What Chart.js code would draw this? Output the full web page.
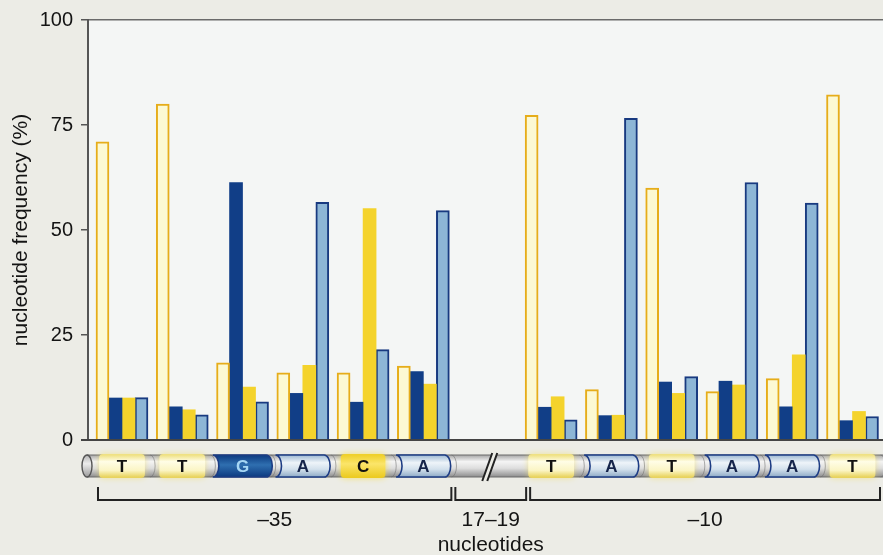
<!DOCTYPE html>
<html>
<head>
<meta charset="utf-8">
<script src="https://cdn.jsdelivr.net/npm/chart.js@4.4.1/dist/chart.umd.min.js"></script>
<style>
  html, body { margin: 0; padding: 0; background: #ececE6; overflow: hidden; }
  #wrap { width: 883px; height: 555px; position: relative; }
  canvas { display: block; }
</style>
</head>
<body>
<div id="wrap"><canvas id="promoter" width="883" height="555"></canvas></div>
<script>
// Consensus bases of the two promoter boxes
const boxMinus35 = ['T', 'T', 'G', 'A', 'C', 'A'];
const boxMinus10 = ['T', 'A', 'T', 'A', 'A', 'T'];

// Frequency (%) of each nucleotide at the 12 box positions (-35 box then -10 box)
const freqT = [71, 80, 18.4, 16, 16, 17.6, 77.3, 12, 60, 11.5, 14.6, 82.2];
const freqG = [10, 7.9, 61.3, 11.1, 9, 16.3, 7.8, 5.8, 13.8, 14, 7.9, 4.6];
const freqC = [10, 7.2, 12.6, 17.8, 55.1, 13.3, 10.3, 5.9, 11.1, 13.1, 20.3, 6.8];
const freqA = [10.1, 6, 9.1, 56.6, 21.5, 54.6, 4.8, 76.6, 15.1, 61.3, 56.4, 5.6];

const yTicks = [0, 25, 50, 75, 100];
const spacerLabel = '17–19';
const regionLabels = ['–35', spacerLabel, '–10'];
const yTitle = 'nucleotide frequency (%)';
const xTitle = 'nucleotides';

// Bases sit one slot apart; the spacer between the boxes is drawn a little over two slots wide
const bases = [...boxMinus35, ...boxMinus10];
const FIRST_BOX = boxMinus35.length;
const SPACER_EXTRA = 1.12;
const slotOf = i => (i < FIRST_BOX ? i : i + SPACER_EXTRA);
const asPoints = arr => arr.map((v, i) => ({ x: slotOf(i), y: v }));

const FONT = '"Liberation Sans", Arial, Helvetica, sans-serif';
const INK = '#141414';

function baseShape(ctx, xl, xr, top, bot, bulge) {
  const mid = (top + bot) / 2, ry = (bot - top) / 2;
  ctx.beginPath();
  ctx.moveTo(xl, top);
  ctx.lineTo(xr, top);
  ctx.ellipse(xr, mid, bulge, ry, 0, -Math.PI / 2, Math.PI / 2, false);
  ctx.lineTo(xl, bot);
  ctx.ellipse(xl, mid, bulge, ry, 0, Math.PI / 2, -Math.PI / 2, true);
  ctx.closePath();
}

function drawBase(ctx, base, cx, top, bot, slot) {
  const mid = (top + bot) / 2;
  ctx.save();
  if (base === 'T' || base === 'C') {
    const w = base === 'T' ? slot * 0.76 : slot * 0.74;
    const g = ctx.createLinearGradient(0, top, 0, bot);
    if (base === 'T') {
      g.addColorStop(0, '#efe183'); g.addColorStop(0.3, '#fffde6');
      g.addColorStop(0.7, '#fbf5c4'); g.addColorStop(1, '#e8d35e');
      ctx.shadowColor = 'rgba(240, 222, 100, 0.6)';
    } else {
      g.addColorStop(0, '#efd02a'); g.addColorStop(0.4, '#fbe56a');
      g.addColorStop(1, '#eccb22');
      ctx.shadowColor = 'rgba(245, 220, 60, 0.7)';
    }
    ctx.shadowBlur = 6;
    ctx.beginPath();
    ctx.roundRect(cx - w / 2, top - 1, w, bot - top + 2, 4);
    ctx.fillStyle = g;
    ctx.fill();
    ctx.shadowBlur = 0;
    ctx.fillStyle = '#111';
  } else {
    const w = base === 'G' ? slot * 0.92 : slot * 0.84;
    const xl = cx - w / 2 - 2, xr = cx + w / 2 - 4;
    const g = ctx.createLinearGradient(0, top, 0, bot);
    if (base === 'A') {
      g.addColorStop(0, '#9db8d2'); g.addColorStop(0.35, '#eef4f9');
      g.addColorStop(0.65, '#d2e0ec'); g.addColorStop(1, '#8eaac6');
    } else {
      g.addColorStop(0, '#0c3a80'); g.addColorStop(0.45, '#2f6fb0');
      g.addColorStop(1, '#0c3a80');
    }
    baseShape(ctx, xl, xr, top, bot, 6);
    ctx.fillStyle = g;
    ctx.fill();
    ctx.strokeStyle = '#1d3c84';
    ctx.lineWidth = 1.6;
    ctx.stroke();
    ctx.fillStyle = base === 'A' ? '#15244a' : '#a6d6f4';
  }
  ctx.font = 'bold 17px ' + FONT;
  ctx.textAlign = 'center';
  ctx.textBaseline = 'middle';
  ctx.fillText(base, cx, mid + 1);
  ctx.restore();
}

const backdrop = {
  id: 'backdrop',
  beforeDraw(chart) {
    const { ctx, chartArea: a } = chart;
    ctx.save();
    ctx.fillStyle = '#ececE6';
    ctx.fillRect(0, 0, chart.width, chart.height);
    ctx.fillStyle = '#f4f6f5';
    ctx.fillRect(a.left, a.top, a.right - a.left, a.bottom - a.top);
    ctx.restore();
  }
};

const promoterMap = {
  id: 'promoterMap',
  afterDatasetsDraw(chart) {
    const { ctx, chartArea: a, scales: { x } } = chart;
    const px = i => x.getPixelForValue(slotOf(i));
    const slot = x.getPixelForValue(1) - x.getPixelForValue(0);
    ctx.save();

    // baseline
    ctx.strokeStyle = '#444';
    ctx.lineWidth = 2;
    ctx.beginPath();
    ctx.moveTo(a.left - 7, a.bottom);
    ctx.lineTo(chart.width, a.bottom);
    ctx.stroke();

    // DNA strand
    const top = a.bottom + 15, bot = a.bottom + 37, mid = (top + bot) / 2, h = bot - top;
    const x0 = a.left - 1;
    const body = ctx.createLinearGradient(0, top, 0, bot);
    body.addColorStop(0, '#a6a6a6'); body.addColorStop(0.3, '#f4f4f4');
    body.addColorStop(0.6, '#dedede'); body.addColorStop(1, '#8c8c8c');
    ctx.fillStyle = body;
    ctx.fillRect(x0, top, chart.width - x0 + 5, h);
    ctx.strokeStyle = '#6b6b6b';
    ctx.lineWidth = 1.2;
    ctx.beginPath();
    ctx.moveTo(x0, top); ctx.lineTo(chart.width, top);
    ctx.moveTo(x0, bot); ctx.lineTo(chart.width, bot);
    ctx.stroke();

    // rims between bases
    ctx.strokeStyle = 'rgba(110,110,110,0.55)';
    ctx.lineWidth = 1;
    bases.forEach((b, i) => {
      const xr = px(i) + slot / 2 - 2;
      ctx.beginPath();
      ctx.ellipse(xr, mid, 5, h / 2, 0, -Math.PI / 2, Math.PI / 2, false);
      ctx.stroke();
    });

    // left end of the strand
    const cap = ctx.createLinearGradient(0, top, 0, bot);
    cap.addColorStop(0, '#b5b5b5'); cap.addColorStop(0.4, '#ececec'); cap.addColorStop(1, '#9a9a9a');
    ctx.beginPath();
    ctx.ellipse(x0, mid, 5, h / 2, 0, 0, Math.PI * 2);
    ctx.fillStyle = cap;
    ctx.fill();
    ctx.strokeStyle = '#555';
    ctx.lineWidth = 1.4;
    ctx.stroke();

    bases.forEach((b, i) => drawBase(ctx, b, px(i), top, bot, slot));

    // break mark across the spacer
    const gx = (px(FIRST_BOX - 1) + px(FIRST_BOX)) / 2 + 3;
    ctx.beginPath();
    ctx.moveTo(gx - 8, bot + 4); ctx.lineTo(gx + 2, top - 2);
    ctx.lineTo(gx + 7, top - 2); ctx.lineTo(gx - 3, bot + 4);
    ctx.closePath();
    ctx.fillStyle = '#ececE6';
    ctx.fill();
    ctx.strokeStyle = '#222';
    ctx.lineWidth = 2;
    ctx.beginPath();
    ctx.moveTo(gx - 8, bot + 4); ctx.lineTo(gx + 2, top - 2);
    ctx.moveTo(gx - 3, bot + 4); ctx.lineTo(gx + 7, top - 2);
    ctx.stroke();

    // brackets below the strand
    const bt = a.bottom + 47, bb = a.bottom + 60;
    const spans = [
      [px(0) - 24, px(FIRST_BOX - 1) + 28],
      [px(FIRST_BOX - 1) + 32, px(FIRST_BOX) - 25],
      [px(FIRST_BOX) - 21, chart.width - 3]
    ];
    ctx.strokeStyle = '#222';
    ctx.lineWidth = 2;
    spans.forEach(([l, r]) => {
      ctx.beginPath();
      ctx.moveTo(l, bt); ctx.lineTo(l, bb); ctx.lineTo(r, bb); ctx.lineTo(r, bt);
      ctx.stroke();
    });

    ctx.fillStyle = INK;
    ctx.font = '21px ' + FONT;
    ctx.textAlign = 'center';
    ctx.textBaseline = 'middle';
    spans.forEach(([l, r], k) => ctx.fillText(regionLabels[k], (l + r) / 2, a.bottom + 80));
    ctx.fillText(xTitle, (spans[1][0] + spans[1][1]) / 2, a.bottom + 105);
    ctx.restore();
  }
};

new Chart(document.getElementById('promoter'), {
  type: 'bar',
  data: {
    datasets: [
      { label: 'T', data: asPoints(freqT), backgroundColor: '#fcf9d3', borderColor: '#e6ad1a', borderWidth: 2 },
      { label: 'G', data: asPoints(freqG), backgroundColor: '#113e87', borderWidth: 0 },
      { label: 'C', data: asPoints(freqC), backgroundColor: '#f4d32c', borderWidth: 0 },
      { label: 'A', data: asPoints(freqA), backgroundColor: '#8db6d6', borderColor: '#183a80', borderWidth: 2 }
    ]
  },
  options: {
    responsive: false,
    animation: false,
    devicePixelRatio: 1,
    layout: { padding: { top: 15, bottom: 115, left: 0, right: 0 } },
    datasets: { bar: { barThickness: 13, grouped: true } },
    plugins: { legend: { display: false }, tooltip: { enabled: false } },
    scales: {
      x: { type: 'linear', display: false, offset: false, min: -0.564, max: 12.626 },
      y: {
        min: 0, max: 100,
        afterFit: s => { s.width = 88; },
        afterBuildTicks: s => { s.ticks = yTicks.map(v => ({ value: v })); },
        ticks: { color: INK, padding: 8, font: { family: FONT, size: 20 } },
        grid: {
          drawOnChartArea: true,
          color: c => (c.tick && c.tick.value === 100 ? '#6a6a6a' : 'rgba(0,0,0,0)'),
          lineWidth: 1.5,
          tickLength: 7,
          tickColor: '#555',
          tickWidth: 1.5
        },
        border: { display: true, color: '#555', width: 2 },
        title: {
          display: true, text: yTitle, color: INK,
          font: { family: FONT, size: 21 }, padding: { top: 9, bottom: 0 }
        }
      }
    }
  },
  plugins: [backdrop, promoterMap]
});
</script>
</body>
</html>
